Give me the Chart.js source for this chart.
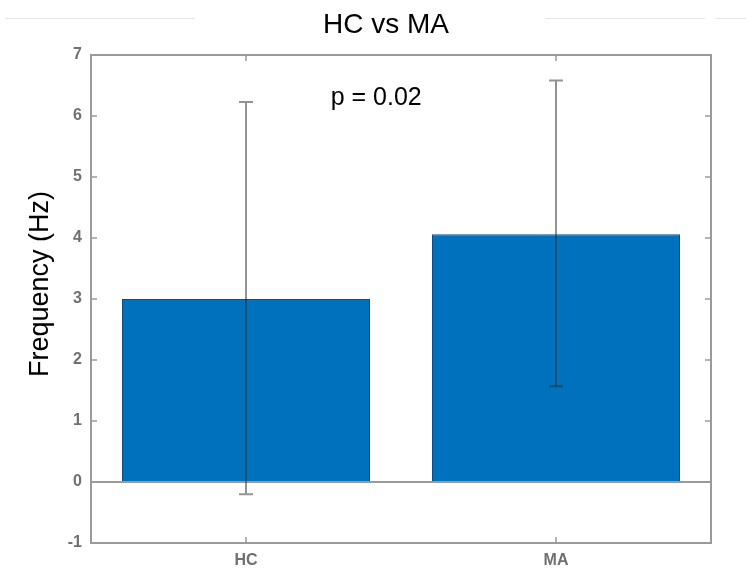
<!DOCTYPE html>
<html>
<head>
<meta charset="utf-8">
<title>HC vs MA</title>
<script src="https://cdn.jsdelivr.net/npm/chart.js@4"></script>
<style>
  html, body { margin: 0; padding: 0; background: #fff; }
  #wrap { width: 746px; height: 571px; position: relative; }
</style>
</head>
<body>
<div id="wrap"><canvas id="freq-chart" role="img" aria-label="Bar chart of frequency for HC and MA groups">HC 3.0 Hz, MA 4.06 Hz</canvas></div>
<script>
// group means and error bar limits (Hz)
const groups = ['HC', 'MA'];
const meanFreq = [3.0, 4.06];
const errLow = [-0.2, 1.57];
const errHigh = [6.23, 6.58];
const yTicks = [-1, 0, 1, 2, 3, 4, 5, 6, 7];
const titleText = 'HC vs MA';
const pText = 'p = 0.02';
const pPos = { x: 0.42, y: 6.3 };   // in category index / Hz units

const FONT = '"Liberation Sans", Arial, Helvetica, sans-serif';
const AXIS_GRAY = '#9a9a9a';

// MATLAB-style box, inward ticks, zero line, error bars and annotations
const matlabAxes = {
  id: 'matlabAxes',
  beforeDraw(chart) {
    const { ctx } = chart;
    ctx.save();
    // faint rules either side of the title
    ctx.strokeStyle = '#e4e4e4';
    ctx.lineWidth = 1;
    ctx.beginPath();
    ctx.moveTo(5, 18.5); ctx.lineTo(195, 18.5);
    ctx.moveTo(545, 18.5); ctx.lineTo(705, 18.5);
    ctx.moveTo(716, 18.5); ctx.lineTo(746, 18.5);
    ctx.stroke();

    // title
    ctx.fillStyle = '#000';
    ctx.font = '28px ' + FONT;
    ctx.textAlign = 'center';
    ctx.textBaseline = 'alphabetic';
    ctx.fillText(titleText, 386, 33);
    ctx.restore();
  },
  afterDatasetsDraw(chart) {
    const { ctx, chartArea: a, scales: { x, y } } = chart;
    ctx.save();

    // zero line
    ctx.strokeStyle = AXIS_GRAY;
    ctx.lineWidth = 2;
    const y0 = y.getPixelForValue(0);
    ctx.beginPath();
    ctx.moveTo(a.left, y0);
    ctx.lineTo(a.right, y0);
    ctx.stroke();

    // error bars
    ctx.strokeStyle = 'rgba(40,40,40,0.5)';
    ctx.lineWidth = 2;
    groups.forEach((g, i) => {
      const px = x.getPixelForValue(i);
      const top = y.getPixelForValue(errHigh[i]);
      const bot = y.getPixelForValue(errLow[i]);
      ctx.beginPath();
      ctx.moveTo(px, top); ctx.lineTo(px, bot);
      ctx.moveTo(px - 7, top); ctx.lineTo(px + 7, top);
      ctx.moveTo(px - 7, bot); ctx.lineTo(px + 7, bot);
      ctx.stroke();
    });

    // axes box
    ctx.strokeStyle = AXIS_GRAY;
    ctx.lineWidth = 2;
    ctx.strokeRect(a.left, a.top, a.right - a.left, a.bottom - a.top);

    // inward ticks on all four sides
    ctx.lineWidth = 1.5;
    ctx.beginPath();
    yTicks.forEach(v => {
      const py = y.getPixelForValue(v);
      ctx.moveTo(a.left, py); ctx.lineTo(a.left + 6, py);
      ctx.moveTo(a.right, py); ctx.lineTo(a.right - 6, py);
    });
    groups.forEach((g, i) => {
      const px = x.getPixelForValue(i);
      ctx.moveTo(px, a.bottom); ctx.lineTo(px, a.bottom - 6);
      ctx.moveTo(px, a.top); ctx.lineTo(px, a.top + 6);
    });
    ctx.stroke();

    // p-value note
    ctx.fillStyle = '#000';
    ctx.font = '25px ' + FONT;
    ctx.textAlign = 'center';
    ctx.textBaseline = 'middle';
    ctx.fillText(pText, x.getPixelForValue(pPos.x), y.getPixelForValue(pPos.y));

    // y-axis title
    ctx.translate(41, 284);
    ctx.rotate(-Math.PI / 2);
    ctx.font = '27px ' + FONT;
    ctx.fillText('Frequency (Hz)', 0, 0);
    ctx.restore();
  }
};

new Chart(document.getElementById('freq-chart'), {
  type: 'bar',
  data: {
    labels: groups,
    datasets: [{
      data: meanFreq,
      backgroundColor: '#0072BD',
      borderColor: '#0d4f85',
      borderWidth: 1,
      categoryPercentage: 0.8,
      barPercentage: 1
    }]
  },
  options: {
    responsive: true,
    maintainAspectRatio: false,
    animation: false,
    layout: { padding: { left: 0, right: 35, top: 55, bottom: 0 } },
    plugins: {
      legend: { display: false },
      tooltip: { enabled: false },
      title: { display: false }
    },
    scales: {
      x: {
        grid: { display: false, drawTicks: false },
        border: { display: false },
        ticks: { color: '#707070', padding: 8, font: { family: FONT, size: 16, weight: 'bold' } },
        afterFit: s => { s.height = 28; }
      },
      y: {
        min: -1,
        max: 7,
        grid: { display: false, drawTicks: false },
        border: { display: false },
        ticks: { stepSize: 1, color: '#707070', padding: 9, font: { family: FONT, size: 16, weight: 'bold' } },
        afterFit: s => { s.width = 91; }
      }
    }
  },
  plugins: [matlabAxes]
});
</script>
</body>
</html>
